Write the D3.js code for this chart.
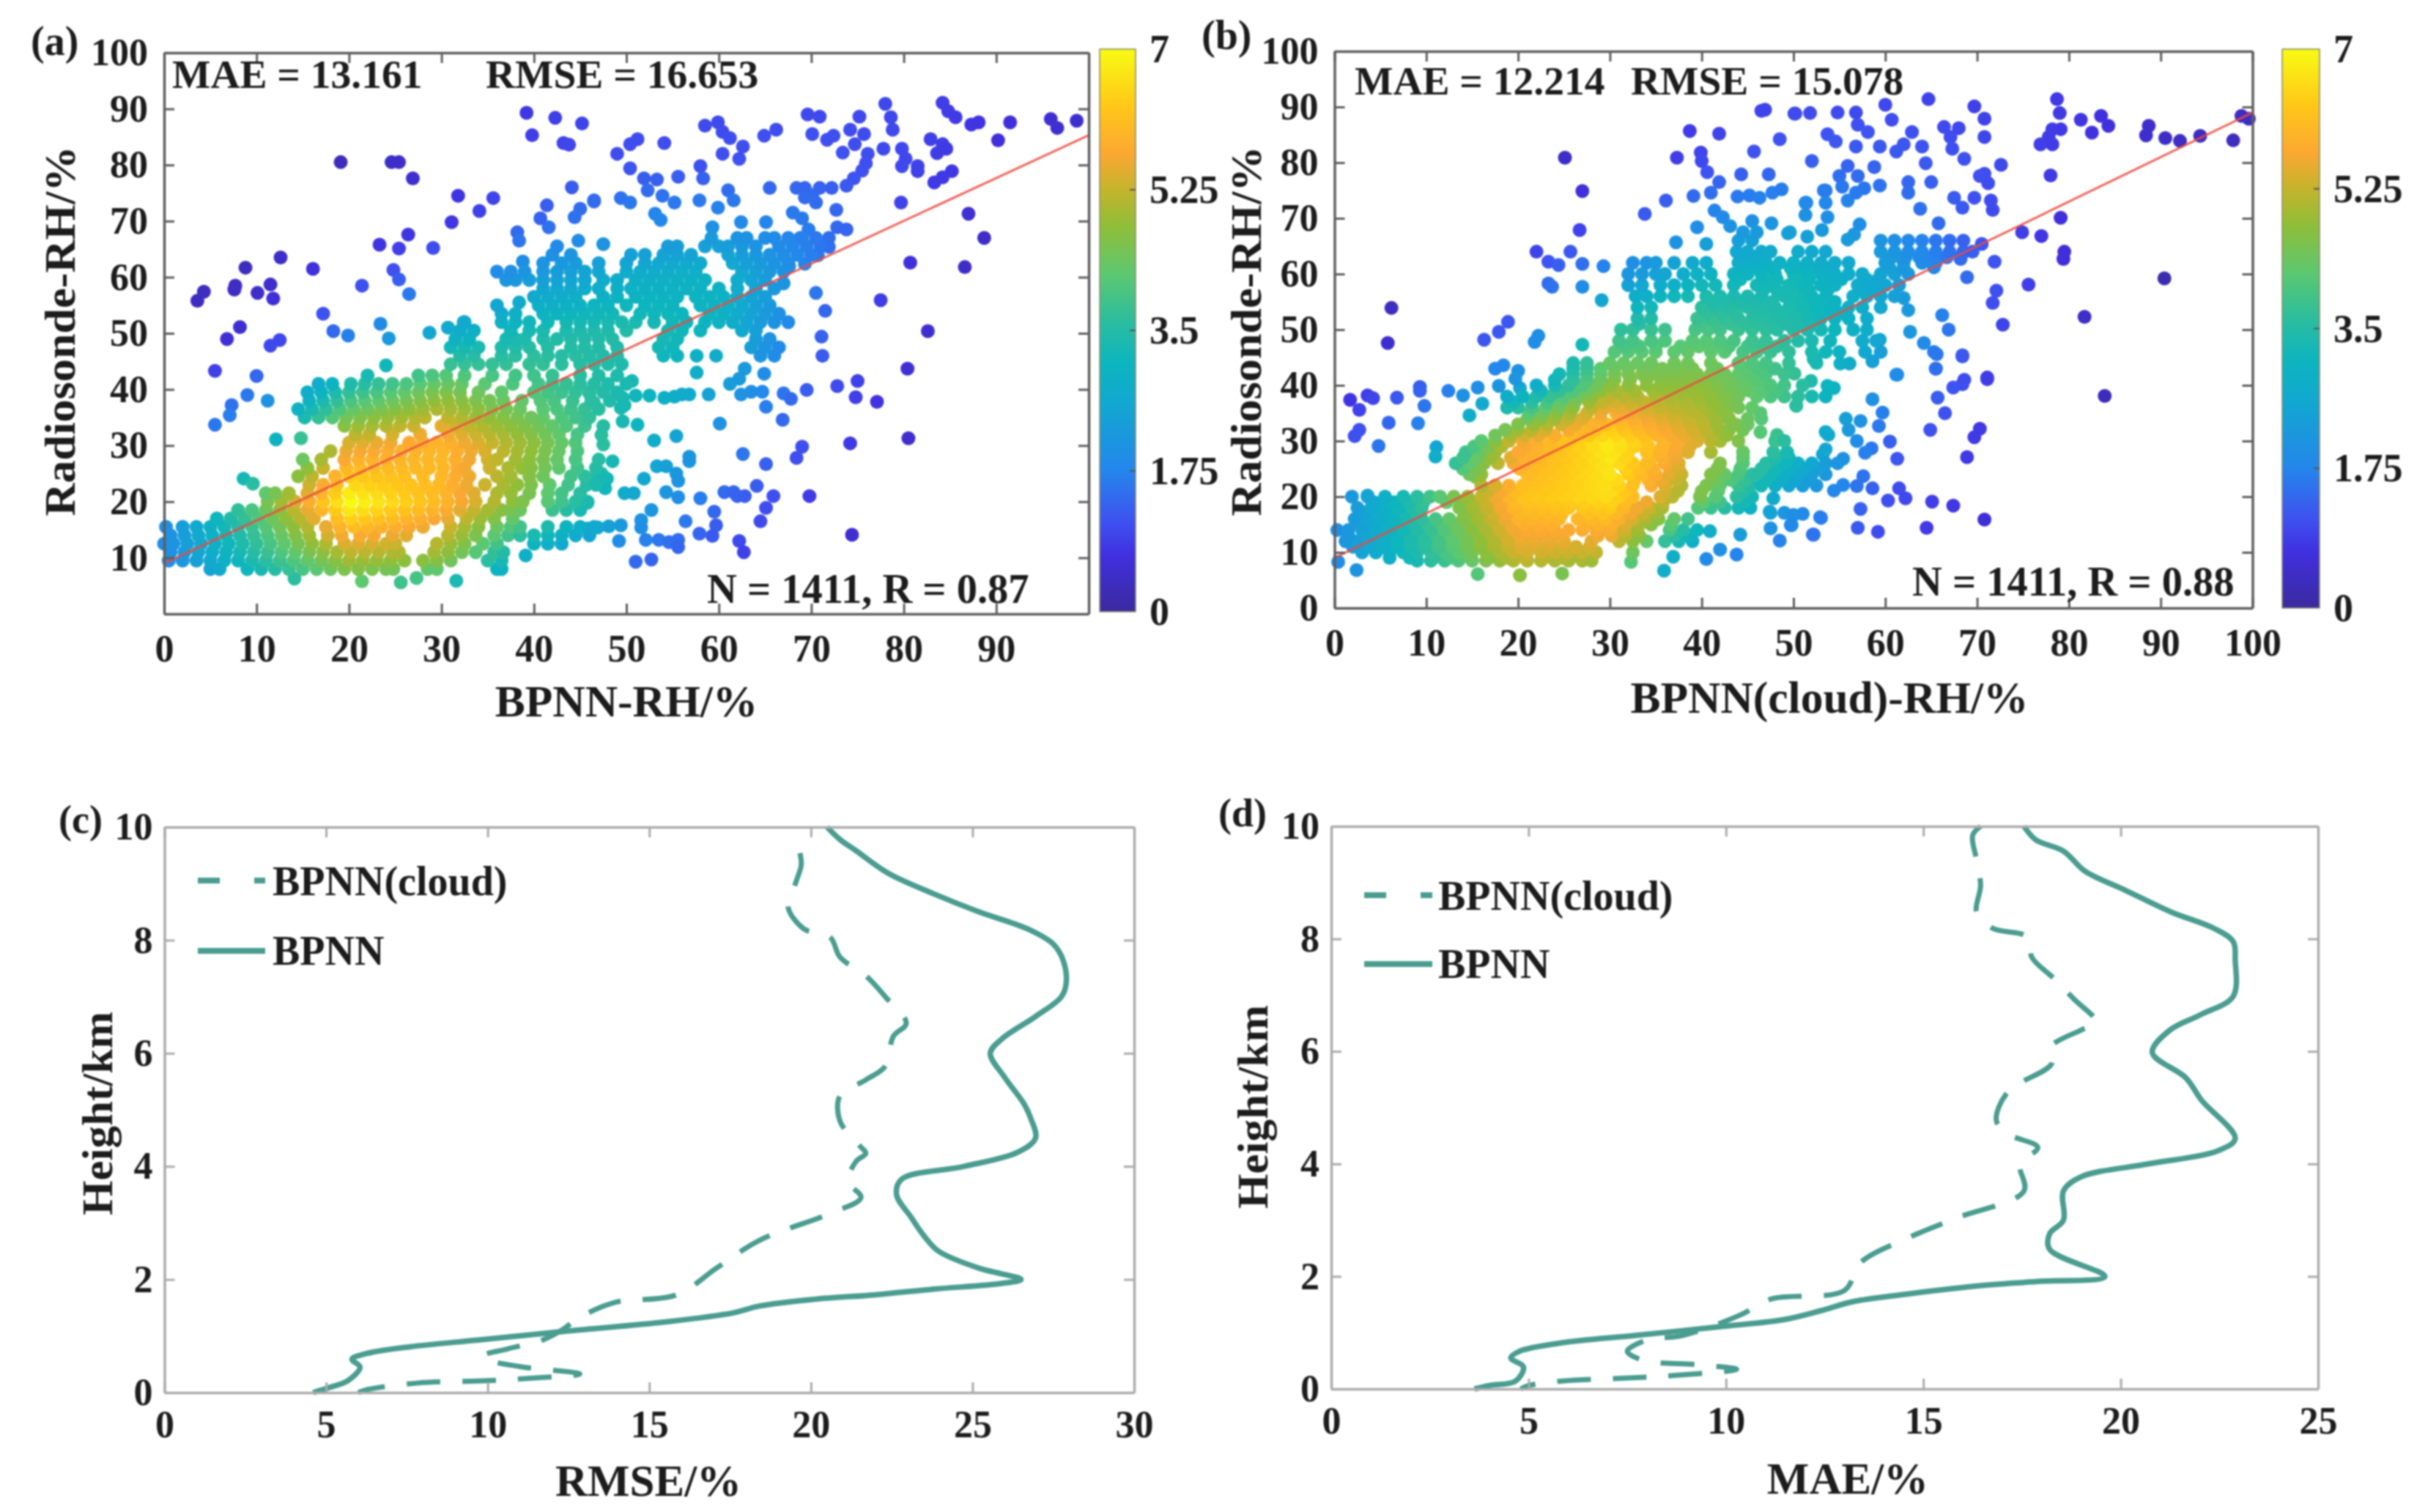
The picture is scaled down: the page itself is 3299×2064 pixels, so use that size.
<!DOCTYPE html>
<html lang="en">
<head>
<meta charset="UTF-8">
<title>BPNN RH scatter and error profiles</title>
<script src="https://d3js.org/d3.v7.min.js"></script>
<style>
    html, body { margin: 0; padding: 0; background: #fff; }
    svg { display: block; filter: blur(1.2px); }
    text { font-family: 'Liberation Serif', serif; font-weight: bold; fill: #1c1c1c; }
</style>
</head>
<body>
<svg id="chart" width="3299" height="2064"></svg>
<script>
// colour bar
const colorValues = [0, 0.7, 1.1, 1.75, 2.6, 3.1, 3.6, 4.2, 4.8, 5.25, 5.7, 6.3, 7];
const colorHex = ['#3b2a9e', '#4030e0', '#3f50f0', '#2486ec', '#12a8d0', '#0db5be', '#2abda0', '#5cc870', '#90be38', '#c4b42c', '#fba832', '#ffc818', '#f8fb14'];
const colorTicks = [0, 1.75, 3.5, 5.25, 7];

// panel (a): scattered points [BPNN, radiosonde]
const scatterA = [[39.2,89.3],[42.3,88.4],[45.2,87.4],[39.8,85.3],[43.2,83.9],[43.8,83.6],[19.1,80.5],[24.6,80.5],[25.4,80.5],[26.9,77.6],[31.8,74.5],[35.6,74.1],[34.1,71.8],[31.1,69.8],[44.1,76],[41.4,72.8],[40.7,70.5],[41.6,68.9],[46.5,73.7],[45,72.2],[44.4,70.7],[38.2,68],[38.4,66.5],[44.8,66.5],[26.4,67.6],[23.3,65.8],[25.4,65.1],[29.1,65.2],[12.6,63.5],[8.8,61.7],[16.1,61.5],[11.5,58.7],[7.7,58.5],[7.6,57.8],[10.1,57.2],[11.8,56.2],[4.3,57.4],[3.6,55.8],[21.4,58.5],[24.8,61.3],[25.4,59.6],[26.5,57],[17.2,53.5],[18.3,50.4],[19.9,49.6],[8.2,51.1],[6.8,49],[12.5,48.8],[11.5,47.8],[23.4,51.7],[24.3,49.1],[24,44.3],[28.7,50.1],[30.7,51],[32.4,52],[38.4,55.5],[38.8,62.8],
[5.5,43.3],[10,42.4],[9,39],[7.3,37.2],[7.1,35.4],[5.5,33.7],[11.2,38],[12.1,31.1],[14.8,31.3],[8.6,24.1],[9.6,23.2],[31.6,5.9],[39.1,10.4],[25.6,5.6],[27.3,6.4],[21.4,5.8],[14.1,6.3],
[58.5,87],[59.9,87.6],[60.4,85.9],[61.2,84.8],[64.9,85.2],[66.2,86.3],[69.6,89],[70.9,88.6],[75.2,88.6],[78,90.9],[78.6,88.5],[78.8,86.3],[70.1,85.5],[71.7,84.5],[72.4,85.2],[74.2,86.3],[75.7,85.5],[74.7,83.7],[73.4,82.2],[76.1,82],[75.9,80.3],[75.5,79],[74.6,77.6],[73.8,76.3],[72.2,75.9],[70.9,75.9],[69.3,75.9],[68.4,75.9],[70.1,74.6],[70.5,73.3],[69.3,74.2],[77.8,82.9],[79.8,82.9],[80.2,81.1],[79.8,79.8],[81.5,79.8],[81.5,78.9],[82.9,84.6],[84.2,83.7],[83.6,82.1],[84.6,82.9],[85.2,78.9],[84.2,77.8],[83.3,76.9],[84.2,91.1],[84.8,89.6],[85.6,88.5],[87.3,87.2],[88.1,87.6],[91.5,87.6],[90.2,84.4],[95.9,88.2],[96.6,86.6],[98.7,87.9],[79.7,73.3],[87,71.3],[88.7,67],[80.7,62.6],[86.6,61.8],[77.5,55.9],[82.6,50.4],[80.4,43.7],[70.5,57.2],[71.5,54],[71.1,49.4],[71.2,46],[72.7,72],[72.8,68.9],[73.8,68.5],[71.9,67],[71.9,65.4],[70.7,63.9],[69.3,62.4],[67.6,62],[67,58.9],[65.5,75.9],[68,71.5],[69,70.5],[69.7,68.5],[68.8,67],[55.6,77.9],[54.1,83.9],[51.2,84.6],[50.4,83.7],[49,82],[50.4,79.4],[51.9,77.6],[53.3,77.4],[52.3,75.5],[58,79.8],[58.3,77.6],[57.9,73.7],[60.4,82],[62.2,81.1],[62.6,83.3],[61,75.5],[61.6,73.7],[59.9,72.4],[62.4,69.8],[65.1,69.8],[53.9,74.5],[55.2,73.3],[49.4,74.1],[50.4,73.3],[46.5,73.5],[53.1,71.3],[53.7,70.2],[47.5,65.9],[55,65.2],[59.3,68.9],
[72.8,40.6],[75,41.5],[74.8,38.6],[77.1,37.8],[69.5,39.9],[67,39.3],[67.8,38.3],[65.1,36.9],[66.9,34.6],[64.9,42.8],[62.8,43.7],[62.2,41.9],[61.2,41],[63.5,39.6],[62.4,39.1],[64.7,39.6],[57.6,43],[58.9,39.1],[56.8,39.1],[56,39.1],[55.2,38.7],[54.1,38.5],[52.5,38.9],[51,38.9],[49.6,38.5],[49.4,36.7],[49.6,34.3],[50.6,41.5],[51.2,33.7],[60.1,33.9],[55.4,31.7],[53,30.9],[47.3,31.9],[47.5,30.2],[56.8,28],[56.8,27.2],[62.6,28.5],[65.1,26.7],[69,29.8],[68.4,27.8],[74.2,30.4],[80.5,31.3],[53.3,26.3],[54.3,26.3],[55.4,25],[51.9,24.1],[55.6,23.7],[54.3,21.7],[55.6,20.8],[49.8,21.5],[50.8,21.5],[58,20.6],[60.6,21.7],[61.6,21.7],[62,21],[62.8,21],[64.1,22.8],[65.9,21],[69.8,21],[65.1,18.9],[59.5,18.2],[59.7,15.8],[64.5,16.5],[59.3,13.9],[57.9,14.3],[56.4,16.5],[62.2,13],[62.7,11],[74.4,14.1],[52.7,18.5],[51.6,16.7],[49.4,15.8],[48.1,15.6],[46.9,15.4],[45.8,15.2],[49.2,13],[52.1,13.2],[53.5,13.2],[54.6,12.8],[55.6,13.2],[55.6,11.9],[51,9.3],[52.7,9.7],[51.6,15.4],[49.8,37.2],[46.5,24.1],[47.9,24.1],[48.5,27.2],[47.3,25],[47.7,22.4],[45.8,19.8],[45.8,35],[46.5,37.6],[46,39.3]];

// panel (a): dense cloud, one row per radiosonde value [y, [x...]]
const rowsA = [
[8,[5,6,9,10.5,12,13.5,15,16.5,18,19.5,21,22.5,24,24.8,28.5,29.5,36,36.5]],
[9.5,[0.5,2,3.5,5,6.5,8,9.5,11,12.5,14,15.5,17,18.5,20,21.5,23,24.5,26,28,29.5,31,35,36.5]],
[11,[0.7,2.2,3.7,5.2,6.7,8.2,9.7,11.2,12.7,14.2,15.7,17.2,18.7,20.2,21.7,23.2,24.7,25.4,29.2,30.7,32.2,33.7,35.7,36.7]],
[12.5,[0,1,2.5,4,5.5,7,8.5,10,11.5,13,14.5,16,17.5,19.5,21,22.5,24,25,29.5,31,32.5,34.5,36,40,41.5,43]],
[14,[0.7,2.2,3.7,5.2,6.7,8.2,9.7,11.2,12.7,14.2,15.7,17.7,19.2,21.2,22.7,24.7,26.2,30.7,32.2,33.7,35.7,37.2,38.5,40,41.5,43,44.5,46]],
[15.5,[0.2,2,3.5,5,6.5,8,9.5,11,12.5,14,15.5,17.5,19,20.5,22,23.5,25,26.5,28,31,32.5,34,36,37.5,38.5,41.5,43.5,45,46.5]],
[17,[5.7,7.2,8.7,10.2,11.7,13.2,14.7,16.2,18.7,20.2,21.7,23.2,24.7,26.2,27.7,29.2,30.7,32.7,34.2,35.7,37.7]],
[18.5,[8,9.5,11,12.5,14,15.5,17,18.5,20,21.5,23,24.5,26,27.5,29,30.5,32,33.5,35,36.5,37.5,38.5,42,43.5,45]],
[20,[11.2,12.7,14.2,15.7,17.2,18.7,20.2,21.7,23.2,24.7,26.2,27.7,29.2,30.7,32.2,33.7,35.7,37.7,38.8,41.5,43,44.5,45.8]],
[21.5,[11,12,13.5,15.5,17,18.5,20,21.5,23,24.5,26,27.5,29,30.5,32,33.5,36,37.5,39.5,41.5,43,45]],
[23,[15.7,17.2,18.7,20.7,22.2,23.7,25.2,26.7,28.2,29.7,31.2,32.7,34.7,36.7,38.2,39.7,41.7,43.7,45.7,46.7]],
[24.5,[14.5,16,18.5,20,21.5,23,24.5,26,28,30,31.5,33,36,37.5,39.5,41,44,45.5,47.5]],
[26,[15.5,17.2,19.7,21.2,22.7,24.2,25.7,27.2,28.7,30.2,31.7,32.5,35.2,37.2,38.7,39.7,41.2,42.7,44.7,46.7]],
[27.5,[15,17,19.5,21,22.5,24,25.5,27,28.5,30,31.5,33,35,36,38,39.5,41,42.5,44.5,47]],
[29,[18,19.7,21.2,22.7,24.2,25.7,27.2,28.7,30.2,31.7,33.2,34.7,36.7,38.2,39.7,41.2,42.7,44.7]],
[30.5,[20,21.5,23,24.5,26.5,28,29.5,31,32.5,34,35.5,37,38.5,40,41.5,43,44.5]],
[32,[20.7,22.2,24.7,27.7,30.7,32.2,33.7,35.2,36.7,38.2,39.7,41.2,42.7,44.7]],
[33.5,[19.5,21,22.5,24,25.5,27,30,31.5,33,34.5,36,37.5,39,40.5,42,43.5,45.5,47.5]],
[35,[15.2,16.7,18.2,19.7,21.2,22.7,24.2,25.7,27.2,28.2,30.7,32.2,33.7,35.2,36.7,38.2,39.7,41,43,44.5,46]],
[36.5,[14.5,16,17.5,19,20.5,22,23.5,25,26.5,28,29.5,31,32.5,34,35.5,37,38.5,41,42.5,44,45.5,47]],
[38,[15.7,17.2,18.7,20.2,21.7,23.2,24.7,26.2,27.7,29.2,30.7,32.2,33.7,35.2,36.7,38.7,40.7,42.2,44.2,46.2,48.2]],
[39.5,[15.5,17,18.5,20,21.5,23,24.5,26,27.5,29,30.5,32,34,36.5,40,41.5,43,44.5,46,47.5,49]],
[41,[16.7,18.2,20.2,21.7,23.2,24.7,26.2,27.7,29.2,30.7,32.2,34.7,37.7,40.5,42,43.5,45,46.5,48,50]],
[42.5,[22,27.5,29,30.5,32.5,35.5,38,40,42,45,47,49]],
[44.5,[31,32.5,34,35.5,37,39.5,41,43,45,46.5,48,49.5]],
[46,[32,33.5,36.5,38,40,41.5,43,44.5,46,47.5,49,54,55.5,57.6,59.7,64.5,66]],
[47.5,[31,32.5,34,36.5,38,39.5,41.5,44,45.5,47,49,53.5,55,63.5,65,66.5]],
[49,[31.5,33,37,38,39,41,42.5,44,45.5,47,48.5,54,55.5,64,65.5]],
[50.5,[32,33.5,37.5,39.5,41,43.5,45,46.5,48,50,54.5,56,58,62.5,64]],
[52,[32.5,36.5,38,39.5,41.5,43.5,45,46.5,48,49.5,51,53,55,56.5,58.5,60,61.5,63,64.5,66,67.5]],
[53.5,[36.5,38,41,42.5,44,45.5,47,48.5,51.5,53,54.5,56,59,60.5,62,63.5,65,66.5]],
[55,[36,40.5,42,43.5,45,46.5,48,50,52,53.5,55,58,59.5,61,62.5,64,65.5]],
[56.5,[40,41.5,43,44.5,47.5,49,51,52.5,54,55.5,57.5,59,60.5,62,63.5,65]],
[58,[41,42.5,44,45.5,47,49,50.5,52,53.5,55,56.5,58,60,62,64,66]],
[59.5,[37,38,39.5,41,42.5,44,45.5,47.5,49,51,52.5,54,55.5,57,58.5,62,63.5,65]],
[61,[36,37.5,39,41,42.5,44,45.5,47,50,51.5,53,54.5,56,57.5,62.5,64,65.5,67]],
[62.5,[41,43,44.5,47,50,52,53.5,55,56.5,58,61.5,63,64.5,66,67.5]],
[64,[42,44,50.5,52,54,55.5,57,61,62.5,64,65.5,67,68.5,70]],
[65.5,[42.5,54.5,55.5,58.5,60,61,62.5,64,66.5,68,69.5,71]],
[67,[59.2,62,63,65,66,67.5,69,70.5]]];

// panel (b): scattered points [BPNN(cloud), radiosonde]
const scatterB = [[46.9,89.5],[46.5,89.3],[50.1,88.8],[38.7,85.7],[41.9,85.2],[48.5,84.2],[45.7,82],[25.1,80.9],[37.3,80.9],[39.9,81.8],[40,80.3],[40.6,78.3],[44.3,77.9],[47.3,77.9],[27,74.9],[41.9,76.5],[41,74.6],[39.1,74],[36.1,73.2],[33.8,70.8],[43.9,73.9],[45.2,74.1],[46.3,73.7],[47.7,74.6],[48.7,75.2],[41.4,71.4],[42.3,70.2],[43.1,68.6],[45.5,69.5],[47.6,69.1],[49.4,67.3],[39.5,68.4],[37.2,65.7],[40.5,65.4],[26.7,67.9],[22,64],[25.7,64],[23.3,62.2],[24.4,61.6],[27,61.8],[29.3,61.4],[23.3,58.3],[23.7,57.7],[27,57.7],[29.1,55.3],[6.2,53.9],[5.8,47.6],[18.9,51.4],[17.9,49.6],[16.3,48.2],[22.2,48.9],[21.8,47.8],[27,47.3],
[64.7,91.4],[60,90.4],[50.2,88.8],[51.8,88.9],[54.8,89],[56.8,89],[69.7,90.1],[70.8,87.9],[78.7,91.4],[79,88.9],[81.3,87.7],[83.5,88.4],[84.3,86.6],[82.5,85.4],[88.7,86.6],[88.4,84.9],[90.5,84.4],[92.1,83.9],[94.3,84.8],[97.9,84],[98.8,88.4],[99.6,87.9],[78.2,86],[79.1,86],[77.8,84.6],[76.9,83.3],[78.2,83.3],[78,77.7],[79.1,70.1],[77,66.8],[74.9,67.5],[79.5,64],[79.4,62.7],[90.4,59.2],[81.7,52.3],[75.6,58.1],[71.9,62.2],[68.9,59.4],[70.5,65.4],[72.1,57],[71.7,54.8],[72.8,50.9],[68.4,45.4],[65.5,43],[61.2,41.9],[71.1,41.4],[68.6,41],
[70.8,84.6],[72.6,79.6],[64.4,79.9],[70.8,78],[70.3,77.6],[71.2,76.3],[65,76.5],[62.5,76.5],[62.5,74.6],[67.5,73.7],[69.7,73.7],[68.4,71.9],[71.5,73.2],[71.7,71.5],[63.8,71.7],[52,80.3],[53.7,85.1],[54.6,83.8],[66.4,86.4],[68,86.2],[67.1,84.6],[67.3,82.5],[68.6,80.7],[59.4,82.9],[60.7,87.7],[61.2,82],[62.9,85.5],[64,82.9],[62,83.3],[57,86.8],[58.1,85.5],[56.8,82.9],[55.9,79.4],[58.8,79.2],[55,77.6],[57,77.6],[59.4,75.9],[57.7,75.4],[53.3,75],[55.3,75.7],[51.3,72.8],[53.5,72.8],[55.9,73.2],[56.8,74.6],[51.3,70.6],[53.7,70.2],[56.6,67.1],[57.2,68.9],[65.8,69.1],[55.9,66.2],[53.1,67.9],[51.5,66.7],[49.6,67.5],[65.3,61.2],[68.2,62.7],[62,55.7],[62.5,53.5],[62.7,49.6],[66.2,52.6],[66.9,50],[64.2,47.6],[65.3,46],[59.4,48.2],[52.2,44.7],[55.1,43.9],[56.1,43.9],
[9.3,39.7],[9.3,39],[12.4,39],[14,38.2],[15.6,39.6],[17.9,39.9],[6.8,37.8],[3.6,38.2],[4.2,37.7],[1.7,37.4],[2.7,35.6],[9.8,36.3],[5.9,33.3],[9.1,33.2],[2.7,32],[2.2,30.9],[4.8,29.1],[16.1,36.7],[14.7,34.6],[11.1,28.9],[11,27.2],[1.9,20],[3.6,20.2],[2.4,6.8],[0.4,8.3],[0.3,14],[15.6,6.1],[20.2,5.9],[24.8,6.2],[35.9,6.7],[32.3,8.3],[36.9,9.2],[40.5,8.8],[42,10.5],[43.8,9.6],[40.9,13.8],[44.2,13.2],[50.3,36.4],[53,16.2],[52.1,13.2],[48.5,12.1],[47.5,14.3],[49.8,14.9],[51,16.9],[47.5,17.1],[49,17.1],[50,16.7],[18.4,43.6],[17.5,43],[20,42.6],[20.2,39.5],[19.7,41.2],[15.4,23.5],[46.4,31.6],[48.2,31.1],[46.4,35],[53.5,31.6],[53.2,27.6],[47.8,19.7],
[83.9,38.1],[71.1,41.1],[68.4,40.2],[67.4,39.6],[65.7,37.8],[66.5,35],[64.9,32],[70.3,32.2],[69.7,30.7],[68.9,27.1],[61.3,26.8],[60.5,29.9],[58.6,37.5],[59.7,35.1],[59.3,32.7],[57.3,33.6],[55.7,34],[56,32],[53.8,31.1],[56.9,30],[58.5,28.7],[57.8,27.9],[55.4,26.8],[53.5,28.5],[57.6,23.7],[56.9,21.9],[55.4,22.1],[54.4,21.1],[58.6,21.5],[61.5,21.5],[62.2,19.7],[60.3,19.3],[65.1,19.1],[67.4,18.4],[70.8,15.9],[64.5,14.4],[59.2,13.7],[57,14.4],[57.3,17.8],[52.9,16.3],[52.2,13.2],[49.7,14.9],[47.4,17.3],[61.3,41.9],[65.5,43],[68.4,45.2],[65.6,45.6],[52.4,44.7],[58.6,44.3],[50.3,36.3],[54.4,39.5],[53.7,39.9],[50.1,42.1],[51.9,40.8],[51.4,72.8],[53.5,75]];

// panel (b): dense cloud
const rowsB = [
[8.5,[9,10.5,12,13.5,15,16.5,18,19.5,21,22.5,24,25.5,27,28]],
[9,[6,8.2,10.8,12.8,14.8,16.8,18.8,20.8,22.8,24.8,26.8]],
[10,[3,4.5,6,7.5,9,10.5,12,13.5,15,16.5,18,19.5,21,22.5,24,25.5,27,28.5,32.5]],
[11,[2,3.8,5.3,6.8,8.3,9.8,11.3,12.8,14.3,15.8,17.3,18.8,20.3,21.8,23.3,24.8,26.3,27.8]],
[12,[1.2,2.5,4,5.5,7,8.5,10,11.5,13,14.5,16,17.5,19,20.5,22,23.5,25,28,31,32.5,34,36,37.5,39]],
[13,[1.5,3.7,5.2,6.7,8.2,9.7,11.2,12.7,14.2,15.7,17.2,18.7,20.2,21.7,23.2,24.7,28.7,30.2,31.7,33.2,37,38.7]],
[14,[1.5,3,4.5,6,7.5,9,10.5,12,13.5,15,16.5,18,19.5,21,22.5,24,25.5,27,28.5,30,31.5,33,36.5,38,39.5]],
[15,[2.7,4.2,5.7,7.2,8.7,10.2,11.7,13.2,14.7,16.2,17.7,19.2,20.7,22.2,23.7,27.2,28.7,30.2,31.7,33.2,34.5,36.7]],
[16,[2.2,3.5,5,6.5,8,9.5,11,12.5,14,15.5,17,18.5,20,21.5,23,24.5,26.5,28,29.5,31,32.5,34,35.3,37,38.5]],
[17,[3.2,4.7,6.2,7.7,9,14.3,15.8,17.3,18.8,20.3,21.8,23.3,24.8,27.7,29.2,30.7,32.2,33.7,35]],
[18,[2.5,4,5.5,7,8.5,9.5,13.6,15,16.5,18,19.5,21,22.5,24,25.5,27,28.5,30,31.5,33,34.5,35.7,39.6,41,42.5,44,45.3]],
[19,[4.3,6.5,8.2,9.7,12.2,13.7,15.2,16.7,18.2,19.7,21.2,22.7,24.2,25.7,27.2,28.7,30.2,31.7,34,35.8,40.2,42,44.7]],
[20,[3.6,5.5,7.5,9,10.4,11.5,13,14.5,16,17.5,19,20.5,22,23.5,25,26.5,28,29.5,31,32.5,35.5,36.8,39.8,41.5,43.8,45.5]],
[21,[16.7,18.2,19.7,21.2,22.7,24.2,25.7,27.2,28.7,30.2,31.7,36.2,37.4,40,41.8,44.5]],
[22,[16,17.5,19,20.5,22,23.5,25,26.5,28,29.5,31,32.5,34.5,36,37.8,40.5,42,44,45.3,46.5,48,49.5,51,52.5]],
[23,[21.7,23.2,24.7,26.2,27.7,29.2,30.7,32.7,34.2,35.7,37.2,41.5,43.2,44.7,47,48.7,50.2,51.8]],
[24,[14.7,16,21,22.5,24,25.5,27,28.5,30,32,33.5,35,36.5,37.8,41,42.5,44,45.5,46,47.5,49,50.5,52,53.5]],
[25,[14,15.5,20.2,21.7,23.2,24.7,26.2,27.7,29.7,31.7,33.2,34.7,36.5,37.5,41.7,44.2,46.5,48,49.7,51.2,52.7]],
[26,[13.2,14.8,16.3,17.8,19.5,21,22.5,24,25.5,27,29,31,32.5,34,36,37.5,42,44.5,47,49,50.5,52,53.5,54.8]],
[27,[14,15.5,17,19.2,20.7,22.2,23.7,25.2,26.7,28.2,30,31.7,34.5,35.7,37.2,44.5,48,49.5]],
[28,[14.3,15.8,17.5,20,21.5,23,24.5,26,27.5,29,30.5,32,34,35.5,37,38.5,41,44.5,47.8,49.3]],
[29,[15.2,16.7,18.2,20.7,22.2,23.7,25.2,26.7,28.2,29.7,31.2,32.7,34.2,35.7,37.2,38.7]],
[30,[16,17.5,19,20.5,22,23.5,25,26.5,28,29.5,31,32.5,34,36,37.5,39.5,41,42,44,48,49]],
[31,[17.5,19.2,20.7,22.2,24,26,27.7,29.2,30.7,32.2,33.7,35.2,36.7,38.2,39.7,41.2,42.7]],
[32,[18.6,20,21.5,23,25.5,27,28.5,30,31.5,33,34.5,36,37.5,39,40.5,42,43,44.5]],
[33,[20,21.7,23.2,24.7,26.2,28,29.7,31.2,32.7,34.2,35.7,37.2,38.7,40.2,41.7,43.7,45]],
[34,[21,22.5,24,25.5,27,29,31,32.5,34,35.5,37,38.5,40,41.5,43,45,46.5]],
[35,[21.2,22.7,24.2,25.7,27.5,29,30.7,32.2,33.7,35.2,36.7,38.2,39.7,41.2,42.7]],
[36,[18.8,20,21.5,23,24.5,26,28,29.5,31,32.5,34,35.5,37,38.5,40.5,42,44,45.5]],
[37,[19.5,21.5,23.2,24.7,26.2,27.7,29.2,30.7,32.2,33.7,35.2,36.7,38.2,39.7,41.2,43]],
[38,[18.8,20.5,22,23.5,25,26.5,28,30,31.5,33,35,36.5,38,39.5,41,42.5,44,46,47.5,49,50.5,52,53.5]],
[39,[22.5,24.5,26,27.5,29,30.7,32.7,34.7,36.2,37.7,39.2,40.7,42.2,43.7,45.2,46.7,48.2]],
[40,[22,24,25.5,27,28.5,30,32,34,35.5,37,38.5,40,41.5,43,44.5,46,47.5,49,51]],
[41,[24,26,27.5,29,30.5,32.2,34,35.7,37.2,38.7,40.2,41.7,43.2,44.7,46.2]],
[42,[24.5,26,27.5,29,30.5,32,33.5,35,36.5,38,39.5,41,42.5,44,45.5,47,49]],
[43,[26,27.5,29,30.5,32,34,35.7,37.2,39,41.7,44.7,46.2,48]],
[44,[26,27.5,30,31.5,33,34.5,37,38.5,41,44,45.5,47,49.5,52.5]],
[46,[30.5,32,33.5,35,37,38.5,41,42.5,44.5,46,47.5,49.5,52,53.5,55,57.8,59.5]],
[47,[31.7,33.2,35,37.7,39.7,41.2,43,45,46.7,48.2]],
[48,[31,32.5,34.5,36,39,40.5,42,43.5,45.5,47,49,50.5,52,54,57.5,59]],
[50,[31.2,32.5,34.5,36,39.3,40.7,42,44,45.5,47,48.2,50,51.5,53,54.5,56.5,58]],
[51,[33.2,39.7,41.7,43.2,44.7,46.2,47.7,49.2,50.7,52.2]],
[52,[33,34.5,39.5,41,42.5,44,45.5,47,48.5,50,51.5,53,54.5,56,58]],
[53,[40.7,42.2,43.7,45.7,47.2,48.7,50.2,51.7,53.2,55]],
[54,[33,34.5,40,41.5,43,45,46.5,48,49.5,51,52.5,54,56,57.5,59.5]],
[55,[41.2,42.7,44.2,46,47.7,49.7,51.2,52.7,54.5]],
[56,[32.8,34,35.5,37,38.5,40.5,42,43.5,45,46.5,49,50.5,52,53.5,56.5,58,59.5,61]],
[57,[46.7,48.2,50,51.7,53.7,57.7,59]],
[58,[32,33.5,35.5,37,38.5,40,41.5,43.5,46,47.5,49.5,51,53,54.5,57,58.5,60,61.5]],
[59,[44.2,46.7,48.2,50.2,51.7,53.7,55.2,58,59.2]],
[60,[32,33.5,35,36,38,39.5,41,43.5,45,46.5,48,50,51.5,53,54.5,56,57.5,59.5,61,62.5]],
[61,[44.7,46.2,47.7,49.7,51,52.7,54,60.5,62]],
[62,[32.5,34,35,37,39,40.5,44,45.5,47,48.5,50,51.5,53,54.5,56,60,62,64,65.5]],
[63,[44.4,45.7,60.7,62.2,63.7,65.2,66.7,68.2]],
[64,[43.8,45,46.5,47.5,50.5,52,53.5,59.5,61,62.5,64,65.5,67,68.5,69.5]],
[66,[44,45.5,59.5,61,62.5,64,65.5,67,68.5]],
[67.5,[44.5,46]]];

// point density, rows y = 0,10..90, columns x = 0,10..100
const densityA = [
[1,2.2,3.4,1.8,1.2,.8,.5,.4,.3,.2,.2],
[1.9,3.5,5,4.8,2.6,1.5,1,.6,.3,.2,.2],
[2,4.2,7,6,4.4,2.6,1.4,.8,.4,.3,.2],
[1,2.5,5.5,6,4.8,3.2,1.8,1,.5,.3,.2],
[.5,1.6,3.6,4.6,4,3.3,2.4,1.2,.6,.3,.2],
[.3,.6,1.6,2.7,3.4,3.5,3,1.4,.6,.3,.2],
[.3,.4,.9,1.5,2.3,2.8,3,1.7,.6,.3,.2],
[.3,.3,.4,.7,1.3,1.8,1.9,1.6,.9,.4,.3],
[.3,.3,.3,.6,1,1.1,1.1,1.2,1,.6,.4],
[.3,.3,.3,.5,.8,1,1,1,1,.7,.5]];
const densityB = [
[1,2.7,3.8,2.8,1.2,.8,.5,.3,.2,.2,.2],
[2,3.6,5.4,5.2,2,1.4,.9,.5,.3,.2,.2],
[1.8,3.8,6.2,6.6,4.5,2.2,1.1,.7,.4,.2,.2],
[.9,2,5.6,6.8,5.4,3.4,1.3,.8,.4,.2,.2],
[.5,1.3,2.3,4.8,4.8,3.8,1.9,.9,.4,.2,.2],
[.2,.5,1.3,3.6,4,3.5,2.6,1.1,.5,.2,.2],
[.2,.4,1,1.9,3,3.2,2.5,1.3,.6,.2,.2],
[.2,.3,.5,.9,1.8,2.1,1.8,1.1,.6,.3,.2],
[.2,.3,.3,.6,1,1.3,1.3,1.1,.8,.4,.3],
[.2,.3,.3,.5,.8,1,1,.9,.8,.5,.4]];

// error profiles [value, height km]
const rmseBpnn = [[20.5,10],[20.9,9.78],[21.4,9.58],[22.4,9.18],[23.8,8.82],[25.2,8.5],[26.7,8.2],[27.5,7.93],[27.8,7.65],[27.9,7.25],[27.75,7],[26.95,6.65],[25.9,6.25],[25.55,6],[26,5.57],[26.6,5.1],[26.8,4.85],[26.95,4.5],[26.4,4.25],[24.75,4],[22.8,3.77],[22.65,3.5],[23.1,3.1],[23.5,2.77],[23.95,2.5],[25.2,2.2],[26.5,2],[25.9,1.93],[23.8,1.83],[22,1.73],[20.1,1.65],[18.4,1.53],[17.6,1.41],[15.5,1.25],[12.5,1.09],[9.7,.93],[7.6,.81],[6.25,.69],[5.8,.59],[6.05,.45],[5.67,.21],[5.1,.09],[4.6,0]];
const rmseCloud = [[19.66,9.54],[19.7,9.33],[19.55,9.05],[19.4,8.8],[19.3,8.57],[19.78,8.2],[20.6,8.05],[20.9,7.7],[21.7,7.37],[22.3,7],[22.95,6.53],[22.55,6.3],[22.3,5.77],[21.7,5.53],[20.9,5.25],[20.9,4.8],[21.5,4.37],[21.7,4.23],[21.4,4.09],[21.15,3.73],[21.55,3.45],[20.6,3.17],[18.4,2.69],[17.1,2.21],[15.85,1.73],[13.9,1.59],[12.85,1.33],[12.25,1.09],[11.7,.93],[10.6,.77],[9.85,.65],[10.05,.57],[11,.46],[12.85,.33],[11.2,.25],[9.95,.21],[7.85,.17],[6.25,.05],[6,0]];
const maeBpnn = [[17.55,10],[17.85,9.76],[18.55,9.56],[19.1,9.2],[20.1,8.87],[21.3,8.47],[22.35,8.19],[22.85,7.95],[22.9,7.63],[22.85,6.98],[22.05,6.66],[21.25,6.38],[20.8,5.98],[21.65,5.53],[22.05,5.13],[22.9,4.45],[22.45,4.23],[20.7,4],[19,3.77],[18.55,3.52],[18.55,3],[18.2,2.76],[18.2,2.48],[19.6,2],[17.9,1.91],[16.35,1.83],[14.4,1.67],[13.2,1.55],[12.4,1.39],[11.45,1.23],[9.9,1.11],[7.7,.95],[5.95,.83],[4.77,.67],[4.55,.55],[4.87,.39],[4.67,.14],[4,.06],[3.63,0]];
const maeCloud = [[16.45,10],[16.25,9.84],[16.35,9.4],[16.45,8.95],[16.35,8.47],[16.75,8.19],[17.65,8.03],[17.75,7.67],[18.3,7.3],[18.8,6.94],[19.4,6.5],[19,6.38],[18.2,6.06],[18.25,5.78],[17.15,5.29],[16.85,4.77],[17.15,4.53],[17.9,4.29],[17.45,4],[17.55,3.52],[15.85,3.04],[14.6,2.68],[13.4,2.24],[13,1.75],[11.15,1.6],[10.35,1.31],[8.9,.95],[8,.87],[7.5,.67],[7.9,.51],[9.3,.43],[10.27,.35],[8.7,.24],[7.33,.19],[5.85,.14],[5,.06],[4.8,0]];

const ticksTen = d3.range(0, 101, 10);
const svg = d3.select('#chart');
const SERIES_COLOR = '#4a9d90';
const colorScale = d3.scaleLinear().domain(colorValues).range(colorHex).interpolate(d3.interpolateRgb);

// axes on all four sides, only bottom and left carry labels
function frame(g, x, y, xTicks, yTicks, xLabelled, yLabelled, color, xPad, yPad, size, tickLen) {
    const [x0, x1] = x.range();
    const [y0, y1] = y.range();
    const fmt = list => d => list.includes(d) ? d : '';
    const add = (axis, tx, ty) => {
        const a = g.append('g').attr('transform', `translate(${tx},${ty})`).call(axis);
        a.select('.domain').attr('stroke', color).attr('stroke-width', 3.5);
        a.selectAll('.tick line').attr('stroke', color).attr('stroke-width', 3);
        a.selectAll('text').style('font-size', size + 'px');
        return a;
    };
    add(d3.axisBottom(x).tickValues(xTicks).tickSize(-tickLen).tickSizeOuter(0).tickPadding(xPad).tickFormat(fmt(xLabelled)), 0, y0);
    add(d3.axisTop(x).tickValues(xTicks).tickSize(-tickLen).tickSizeOuter(0).tickFormat(''), 0, y1);
    add(d3.axisLeft(y).tickValues(yTicks).tickSize(-tickLen).tickSizeOuter(0).tickPadding(yPad).tickFormat(fmt(yLabelled)), x0, 0);
    add(d3.axisRight(y).tickValues(yTicks).tickSize(-tickLen).tickSizeOuter(0).tickFormat(''), x1, 0);
}

function label(g, str, x, y, size, anchor) {
    return g.append('text').attr('x', x).attr('y', y).attr('text-anchor', anchor || 'start').style('font-size', size + 'px').text(str);
}

function verticalLabel(g, str, x, y, size, len) {
    g.append('text').attr('transform', `translate(${x},${y}) rotate(-90)`)
        .attr('text-anchor', 'middle').attr('textLength', len).attr('lengthAdjust', 'spacingAndGlyphs')
        .style('font-size', size + 'px').text(str);
}

function densityAt(grid, px, py) {
    const gx = Math.min(px / 10, 9.999), gy = Math.min(py / 10, 8.999);
    const i = Math.floor(gx), j = Math.floor(gy);
    const fx = gx - i, fy = gy - j;
    const low = grid[j][i] * (1 - fx) + grid[j][i + 1] * fx;
    const high = grid[j + 1][i] * (1 - fx) + grid[j + 1][i + 1] * fx;
    return low * (1 - fy) + high * fy;
}

function colorbar(g, id, bx, bw, by0, by1, labelX) {
    const c = d3.scaleLinear().domain([0, 7]).range([by1, by0]);
    const grad = svg.append('defs').append('linearGradient').attr('id', id)
        .attr('x1', 0).attr('x2', 0).attr('y1', 1).attr('y2', 0);
    colorValues.forEach((v, i) => grad.append('stop').attr('offset', v / 7).attr('stop-color', colorHex[i]));
    g.append('rect').attr('x', bx).attr('y', by0).attr('width', bw).attr('height', by1 - by0)
        .attr('fill', `url(#${id})`).attr('stroke', '#8a8a6a').attr('stroke-width', 1.5);
    colorTicks.forEach(v => {
        if (v > 0 && v < 7) g.append('line').attr('x1', bx + bw - 8).attr('x2', bx + bw).attr('y1', c(v)).attr('y2', c(v)).attr('stroke', '#555').attr('stroke-width', 2);
        label(g, v, labelX, c(v) + 18, 54);
    });
}

function scatterPanel(o) {
    const g = svg.append('g');
    const x = d3.scaleLinear().domain([0, 100]).range([o.x0, o.x1]);
    const y = d3.scaleLinear().domain([0, 100]).range([o.y0, o.y1]);
    const pts = o.scatter.concat(o.rows.flatMap(r => r[1].map(v => [v, r[0]])));
    g.selectAll('circle').data(pts).enter().append('circle')
        .attr('cx', d => x(d[0])).attr('cy', d => y(d[1])).attr('r', 9.5)
        .attr('fill', d => colorScale(densityAt(o.grid, d[0], d[1])));
    const fit = d3.line().x(d => x(d[0])).y(d => y(d[1]));
    g.append('path').attr('d', fit(o.fit)).attr('fill', 'none').attr('stroke', '#ee4a3e').attr('stroke-width', 3).attr('opacity', .85);
    frame(g, x, y, ticksTen, ticksTen, o.xLabels, o.yLabels, '#5e5e5e', 28, 22, 52, 14);
    o.notes.forEach(n => label(g, n[0], n[1], n[2], n[3]));
    label(g, o.tag[0], o.tag[1], o.tag[2], 56);
    label(g, o.xTitle, o.xTitleAt, o.xTitleY, 61.5, 'middle');
    verticalLabel(g, 'Radiosonde-RH/%', o.yTitleX, 452, 60, 505);
    colorbar(g, o.id, o.bar[0], o.bar[1], o.bar[2], o.bar[3], o.bar[4]);
}

function profilePanel(o) {
    const g = svg.append('g');
    const x = d3.scaleLinear().domain([0, o.xMax]).range([o.x0, o.x1]);
    const y = d3.scaleLinear().domain([0, 10]).range([o.y0, o.y1]);
    const line = d3.line().x(d => x(d[0])).y(d => y(d[1])).curve(d3.curveCatmullRom.alpha(0.5));
    g.append('path').attr('d', line(o.cloud)).attr('fill', 'none').attr('stroke', SERIES_COLOR)
        .attr('stroke-width', 7).attr('stroke-dasharray', '46 30');
    g.append('path').attr('d', line(o.bpnn)).attr('fill', 'none').attr('stroke', SERIES_COLOR).attr('stroke-width', 7.5);
    const xt = d3.range(0, o.xMax + 1, 5), yt = d3.range(0, 11, 2);
    frame(g, x, y, xt, yt, xt, yt, '#ababab', 24, 16, 52, 14);
    label(g, o.tag[0], o.tag[1], o.tag[2], 54);
    label(g, o.xTitle, o.xTitleAt, o.xTitleY, 61, 'middle');
    verticalLabel(g, 'Height/km', o.yTitleX, o.yTitleAt, 60, 278);
    const l = o.legend;
    g.append('line').attr('x1', l.x0).attr('x2', l.x1).attr('y1', l.y1).attr('y2', l.y1).attr('stroke', SERIES_COLOR)
        .attr('stroke-width', 8).attr('stroke-dasharray', '30 47 16');
    g.append('line').attr('x1', l.x0).attr('x2', l.x1).attr('y1', l.y2).attr('y2', l.y2).attr('stroke', SERIES_COLOR).attr('stroke-width', 8);
    label(g, 'BPNN(cloud)', l.tx, l.y1 + 20, 56);
    label(g, 'BPNN', l.tx, l.y2 + 19, 56);
}

scatterPanel({
    id: 'barA', x0: 224, x1: 1486, y0: 838, y1: 72, scatter: scatterA, rows: rowsA, grid: densityA,
    fit: [[0, 9], [100, 85.3]], xLabels: d3.range(0, 91, 10), yLabels: d3.range(10, 101, 10),
    notes: [['MAE = 13.161', 235, 120, 55.5], ['RMSE = 16.653', 663, 120, 55.5], ['N = 1411, R = 0.87', 965, 823, 56.5]],
    tag: ['(a)', 42, 75], xTitle: 'BPNN-RH/%', xTitleAt: 855, xTitleY: 978, yTitleX: 102,
    bar: [1501, 49, 67, 835, 1569]
});
scatterPanel({
    id: 'barB', x0: 1821.5, x1: 3074.5, y0: 830, y1: 70, scatter: scatterB, rows: rowsB, grid: densityB,
    fit: [[0, 9], [100, 89]], xLabels: ticksTen, yLabels: ticksTen,
    notes: [['MAE = 12.214', 1849, 129, 55.5], ['RMSE = 15.078', 2226, 129, 55.5], ['N = 1411, R = 0.88', 2610, 813, 56.5]],
    tag: ['(b)', 1640, 67], xTitle: 'BPNN(cloud)-RH/%', xTitleAt: 2497, xTitleY: 973, yTitleX: 1721,
    bar: [3115, 51, 67, 830, 3185]
});
profilePanel({
    x0: 224.5, x1: 1548, y0: 1901, y1: 1129, xMax: 30, bpnn: rmseBpnn, cloud: rmseCloud,
    tag: ['(c)', 80, 1137], xTitle: 'RMSE/%', xTitleAt: 885, xTitleY: 2042, yTitleX: 153, yTitleAt: 1520,
    legend: { x0: 270, x1: 362, y1: 1202, y2: 1298, tx: 372 }
});
profilePanel({
    x0: 1817, x1: 3164, y0: 1896, y1: 1128, xMax: 25, bpnn: maeBpnn, cloud: maeCloud,
    tag: ['(d)', 1663, 1128], xTitle: 'MAE/%', xTitleAt: 2522, xTitleY: 2039, yTitleX: 1730, yTitleAt: 1511,
    legend: { x0: 1862, x1: 1955, y1: 1222, y2: 1316, tx: 1963 }
});
</script>
</body>
</html>
